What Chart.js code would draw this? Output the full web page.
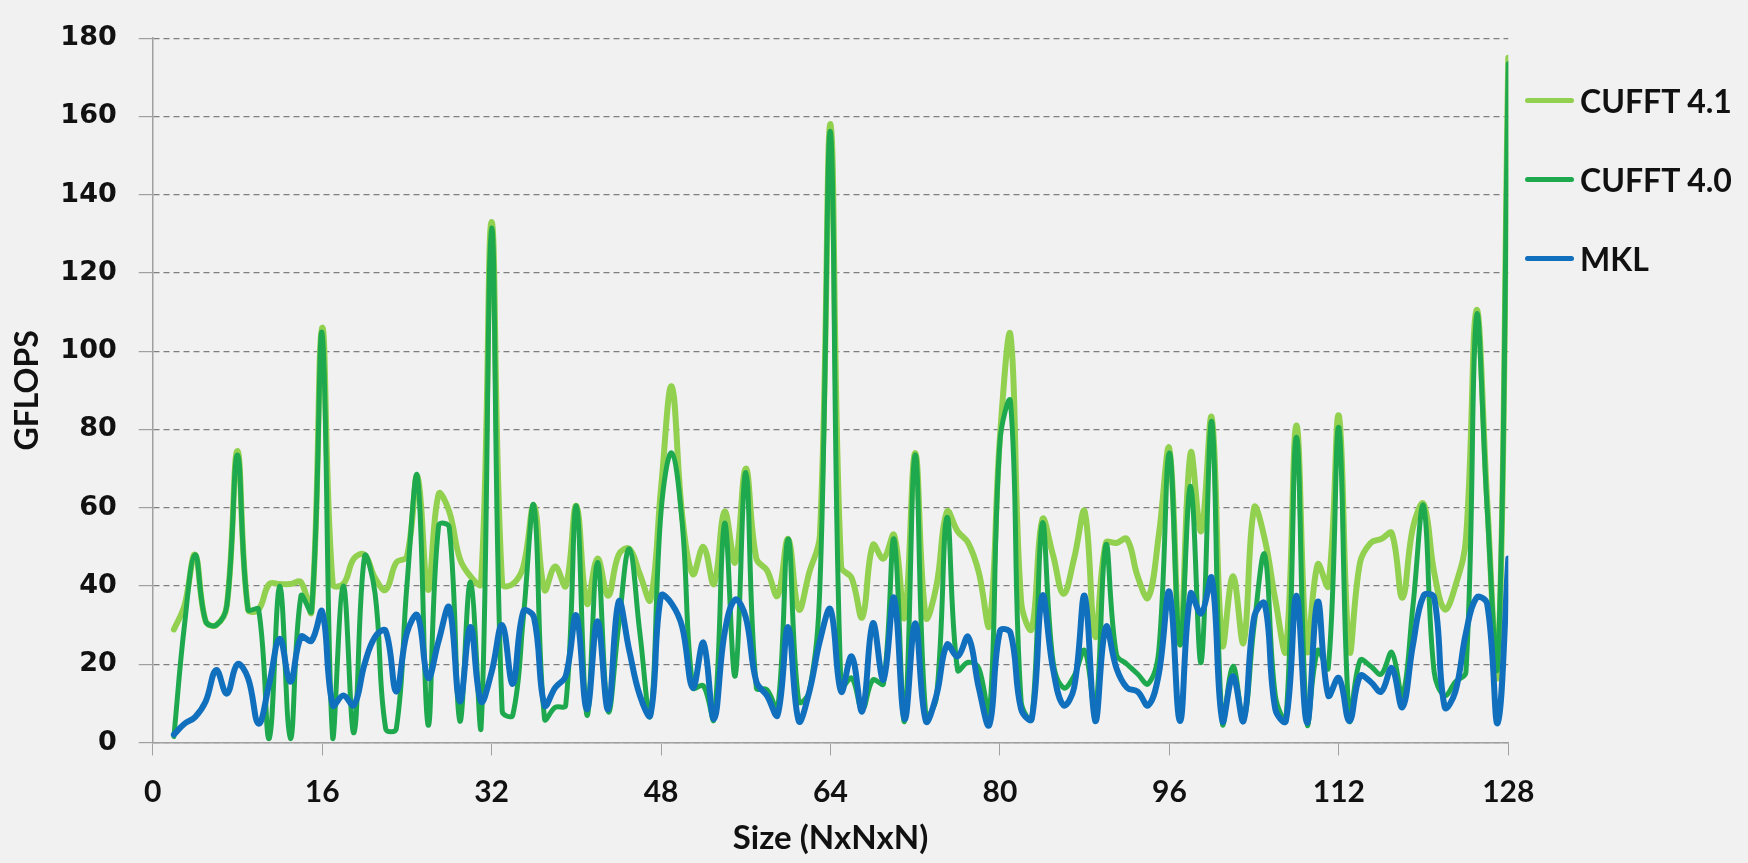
<!DOCTYPE html>
<html>
<head>
<meta charset="utf-8">
<script src="https://cdn.jsdelivr.net/npm/chart.js@4.4.1/dist/chart.umd.min.js"></script>
<style>
html,body{margin:0;padding:0;background:#f1f1f1;overflow:hidden}
#wrap{position:relative;width:1748px;height:863px}
#legend{position:absolute;left:1525px;top:0;font-family:Lato,"Open Sans",sans-serif;font-weight:700;font-size:32px;color:#111}
.item{position:absolute;left:0;display:flex;align-items:center;white-space:nowrap;height:40px}
.swatch{width:49px;height:5px;border-radius:3px;margin-right:6px}
</style>
</head>
<body>
<div id="wrap"><canvas id="c"></canvas><div id="legend"></div></div>
<script>
const sizes = [2,3,4,5,6,7,8,9,10,11,
  12,13,14,15,16,17,18,19,20,21,
  22,23,24,25,26,27,28,29,30,31,
  32,33,34,35,36,37,38,39,40,41,
  42,43,44,45,46,47,48,49,50,51,
  52,53,54,55,56,57,58,59,60,61,
  62,63,64,65,66,67,68,69,70,71,
  72,73,74,75,76,77,78,79,80,81,
  82,83,84,85,86,87,88,89,90,91,
  92,93,94,95,96,97,98,99,100,101,
  102,103,104,105,106,107,108,109,110,111,
  112,113,114,115,116,117,118,119,120,121,
  122,123,124,125,126,127,128];

const cufft41 = [28.9,35,48,31,30,35,74.5,34,34,40.5,
  40.5,40.5,41,33.5,106,40.5,40.5,47,48,42,
  39,46,47.5,68,39,63.5,59,47,42.5,40.5,
  133,40.5,40.5,45,60.5,39,45,40,60.5,35.5,
  47,37.5,48,49.5,43,36.5,65,91,58,43,
  50,40.5,59,46,70,47,44,37.5,52,34,
  43.5,53,158,45,42,32,50.5,47,53,32,
  74,32,40,59,54,51,43.5,30,78,104,
  36,29,57,48,38,47,59,27,51,51,
  52,42.5,37,53,75,25,74,54,83,25,
  42.5,25.5,60,52,36.5,23.5,81,23.5,45.5,40,
  83.5,23.5,46,51,52,53.5,37,55,61,43.5,
  34,40,52,110.5,62,18,175];

const cufft40 = [1.5,30,48,31,30,35,73.5,34,34,1,
  40,1,37.5,33.5,104.5,1,40,2.5,47.5,38,
  3.5,3.5,40,68,4.5,55.5,55,5.5,41,3.5,
  131.5,8,7,32,60.5,6,9,9.5,60.5,7,
  46,8,30,49.5,28,7,59,74,56,14,
  14.5,6,56,17,69,14,13.5,8.5,52,10.5,
  13,40,156,14,16.5,8.5,16,15,52,5.5,
  73.5,7,11.5,57.5,18.5,20.5,19,7,77,87,
  10.5,6,56,21,14,17,23.5,8,50.5,22.5,
  20,17.5,15,23.5,74,25,65.5,20.5,82,5,
  19.5,6,30,48,12,6,78,5,23.5,19,
  80.5,6,21,19.5,17.5,23,12,35,60.5,18,
  12,15.5,18,109,60,20,173.5];

const mkl = [2,4.8,6.5,10.5,18.5,12.5,20,16.5,4.8,15,
  26.5,15.5,27,26,33.5,9.5,12,9.5,20,27,
  28.5,13,28,32.5,16.5,26,34.5,10.5,29.5,10.5,
  18,30,15,33.5,32,9.5,14,17,32.5,8.5,
  31,8.5,36,23.5,12,7,37.5,35.5,29.5,14,
  25.5,6,28,36.5,32,15.5,12,7,29.5,5.5,
  13,26,34,13,22,8,30.5,16,37,6,
  30.5,5.5,12,25,22,27,14,4.5,28.5,28,
  8.5,6,37.5,19,9.5,14,37.5,5.5,29.5,19,
  14,13,9.5,17.5,38.5,5.5,38,33,42,5.5,
  17,5.5,32,35.5,8.5,5.5,37.5,5,36,12,
  16.5,5.5,17,15.5,13,19,9,25,37.5,37,
  9,13,28,37,35.5,5,47];

const seriesNames = ['CUFFT 4.1', 'CUFFT 4.0', 'MKL'];
const seriesColors = ['#92D050', '#1FA94F', '#1170BE'];
const xTicks = [0,16,32,48,64,80,96,112,128];
const yTicks = [0,20,40,60,80,100,120,140,160,180];

const toPts = arr => sizes.map((n, i) => ({x: n, y: arr[i]}));
const axisGray = '#a0a0a0';

const chart = new Chart(document.getElementById('c'), {
  type: 'line',
  data: {
    datasets: [
      {label: seriesNames[0], data: toPts(cufft41), borderColor: seriesColors[0], backgroundColor: seriesColors[0], borderWidth: 6, order: 3},
      {label: seriesNames[1], data: toPts(cufft40), borderColor: seriesColors[1], backgroundColor: seriesColors[1], borderWidth: 5, order: 2},
      {label: seriesNames[2], data: toPts(mkl), borderColor: seriesColors[2], backgroundColor: seriesColors[2], borderWidth: 6, order: 1}
    ]
  },
  options: {
    responsive: true,
    maintainAspectRatio: false,
    animation: false,
    elements: {
      point: {radius: 0, hoverRadius: 0},
      line: {tension: 0.4, borderCapStyle: 'round', borderJoinStyle: 'round', fill: false}
    },
    layout: {padding: {top: 24.5, right: 239.7, bottom: 0, left: 0}},
    plugins: {legend: {display: false}, tooltip: {enabled: false}},
    scales: {
      x: {
        type: 'linear', min: 0, max: 128,
        afterBuildTicks(s) { s.ticks = xTicks.map(v => ({value: v})); },
        ticks: {font: {family: 'Lato', weight: 'bold', size: 30}, color: '#111', padding: 19, maxRotation: 0, autoSkip: false},
        grid: {drawOnChartArea: false, drawTicks: true, tickLength: 13, tickColor: axisGray, color: axisGray},
        border: {display: true, color: axisGray, width: 1.5},
        title: {display: true, text: 'Size (NxNxN)', font: {family: 'Lato', weight: 'bold', size: 33}, color: '#111', padding: {top: 0, bottom: 5}},
        afterFit(s) { s.height = 120.5; }
      },
      y: {
        min: 0, max: 180,
        afterBuildTicks(s) { s.ticks = yTicks.map(v => ({value: v})); },
        ticks: {font: {family: 'DejaVu Sans', weight: 'bold', size: 27}, color: '#111', padding: 22},
        grid: {color: '#7f7f7f', lineWidth: 1.2, drawTicks: true, tickLength: 14, tickColor: axisGray, tickWidth: 1.2, tickBorderDash: []},
        border: {display: true, color: axisGray, width: 1.5, dash: [6, 4]},
        title: {display: true, text: 'GFLOPS', font: {family: 'Lato', weight: 'bold', size: 32}, color: '#111', padding: {top: 8, bottom: 0}},
        afterFit(s) { s.width = 152.7; }
      }
    }
  }
});

// HTML legend built from the chart's datasets
const legendTops = [80.7, 159, 238];
const legendEl = document.getElementById('legend');
chart.data.datasets.forEach((ds, i) => {
  const item = document.createElement('div');
  item.className = 'item';
  item.style.top = legendTops[i] + 'px';
  const sw = document.createElement('span');
  sw.className = 'swatch';
  sw.style.background = ds.borderColor;
  const tx = document.createElement('span');
  tx.textContent = ds.label;
  item.appendChild(sw);
  item.appendChild(tx);
  legendEl.appendChild(item);
});
</script>
</body>
</html>
